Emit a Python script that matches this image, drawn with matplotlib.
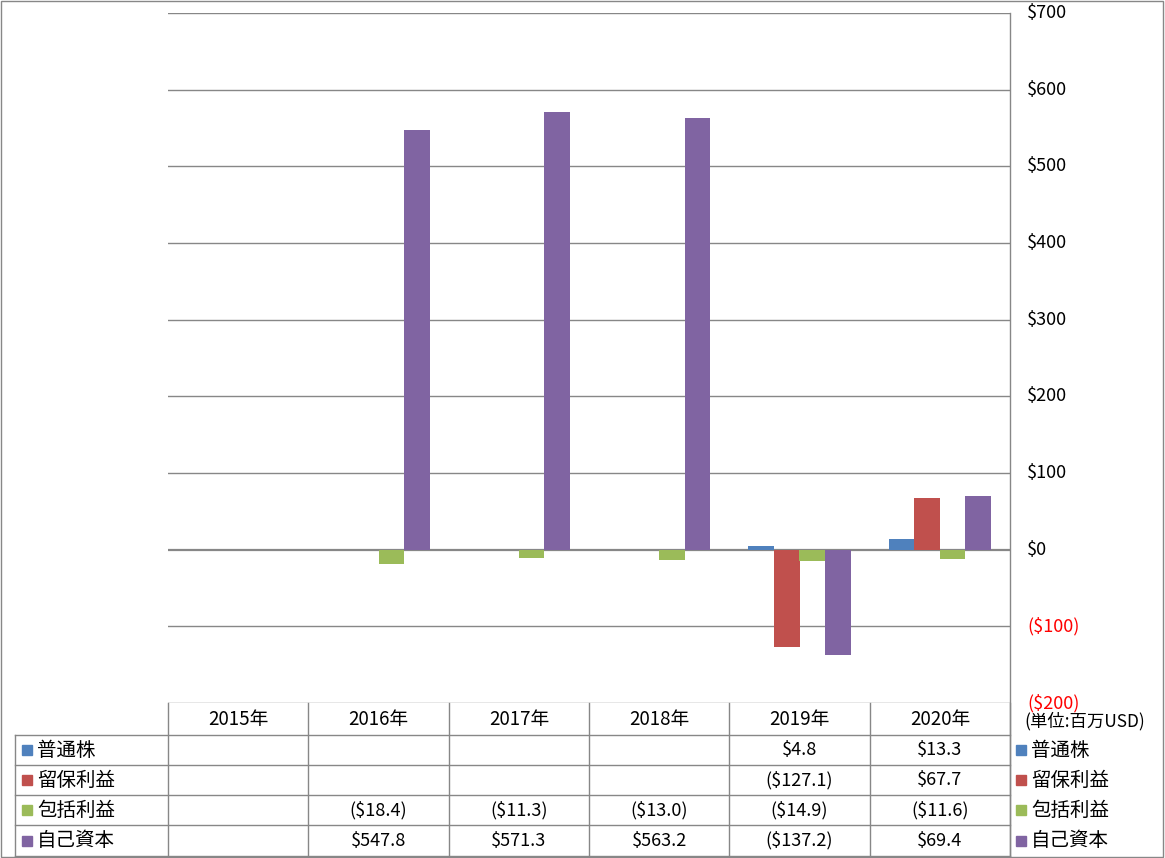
import matplotlib
matplotlib.use("Agg")
import matplotlib.pyplot as plt
import numpy as np
from matplotlib.lines import Line2D
from matplotlib.patches import Rectangle

plt.rcParams['font.family'] = ['Noto Sans CJK JP', 'DejaVu Sans']

years = ["2015年", "2016年", "2017年", "2018年", "2019年", "2020年"]
series_names = ["普通株", "留保利益", "包括利益", "自己資本"]
common_stock = [np.nan, np.nan, np.nan, np.nan, 4.8, 13.3]
retained_earnings = [np.nan, np.nan, np.nan, np.nan, -127.1, 67.7]
comprehensive_income = [np.nan, -18.4, -11.3, -13.0, -14.9, -11.6]
equity = [np.nan, 547.8, 571.3, 563.2, -137.2, 69.4]
series_values = [common_stock, retained_earnings, comprehensive_income, equity]
colors = ["#4F81BD", "#C0504D", "#9BBB59", "#8064A2"]
yticks = [-200, -100, 0, 100, 200, 300, 400, 500, 600, 700]
unit_label = "(単位:百万USD)"

W, H = 1165, 858
fig = plt.figure(figsize=(W / 100, H / 100), dpi=100)
grid_c = "#878787"
lw = 1.0

def fx(px):
    return px / W

def fy(py):
    return 1 - py / H

ax_l, ax_r, ax_t, ax_b = 168, 1010, 13, 703
ax = fig.add_axes([fx(ax_l), fy(ax_b), fx(ax_r) - fx(ax_l), fy(ax_t) - fy(ax_b)])
ax.set_xlim(0, len(years))
ax.set_ylim(-200, 700)
for s in ax.spines.values():
    s.set_visible(False)
ax.set_xticks([])
ax.set_yticks([])
for t in yticks:
    ax.axhline(t, color=grid_c, lw=lw if t != 0 else 1.6, zorder=1)

x = np.arange(len(years)) + 0.5
bw = 0.182
for i, (vals, c) in enumerate(zip(series_values, colors)):
    v = np.array(vals, dtype=float)
    ax.bar(x + (i - 1.5) * bw, np.nan_to_num(v), width=bw, color=c, zorder=2)

# right axis tick labels
for t in yticks:
    yp = ax.transData.transform((0, t))[1]
    ypf = fig.transFigure.inverted().transform((0, yp))[1]
    lab = f"${t}" if t >= 0 else f"(${-t})"
    fig.text(fx(1027), ypf, lab, ha="left", va="center", fontsize=13,
             color="black" if t >= 0 else "#FF0000")
fig.text(fx(1085), fy(721), unit_label, ha="center", va="center", fontsize=12.5)

# table
col_x = [ax_l + i * (ax_r - ax_l) / len(years) for i in range(len(years) + 1)]
row_y = [703, 735, 765, 795, 825, 856]
def hline(y, x0, x1):
    fig.add_artist(Line2D([fx(x0), fx(x1)], [fy(y), fy(y)], color=grid_c, lw=lw))
def vline(xx, y0, y1):
    fig.add_artist(Line2D([fx(xx), fx(xx)], [fy(y0), fy(y1)], color=grid_c, lw=lw))

hline(735, 15, ax_r)
for yy in row_y[2:]:
    hline(yy, 15, ax_r)
for cx in col_x:
    vline(cx, 703, 856)
vline(ax_r, ax_t, 856)
vline(15, 735, 856)

for j, yr in enumerate(years):
    fig.text(fx((col_x[j] + col_x[j + 1]) / 2), fy((row_y[0] + row_y[1]) / 2), yr,
             ha="center", va="center", fontsize=13.5)

def fmt(v):
    if np.isnan(v):
        return ""
    return f"${v:.1f}" if v >= 0 else f"(${-v:.1f})"

for i, (name, vals, c) in enumerate(zip(series_names, series_values, colors)):
    yc = (row_y[i + 1] + row_y[i + 2]) / 2
    for xx0 in (22, 1016):
        fig.add_artist(Rectangle((fx(xx0), fy(yc + 5)), fx(10), 10 / H, color=c,
                                 transform=fig.transFigure))
        fig.text(fx(xx0 + 15), fy(yc), name, ha="left", va="center", fontsize=14)
    for j, v in enumerate(vals):
        fig.text(fx((col_x[j] + col_x[j + 1]) / 2), fy(yc), fmt(v),
                 ha="center", va="center", fontsize=13)

# outer border
fig.add_artist(Rectangle((0.0005, 0.0008), 0.998, 0.998, fill=False, ec=grid_c, lw=lw,
                         transform=fig.transFigure))

fig.savefig("out.png", dpi=100)
